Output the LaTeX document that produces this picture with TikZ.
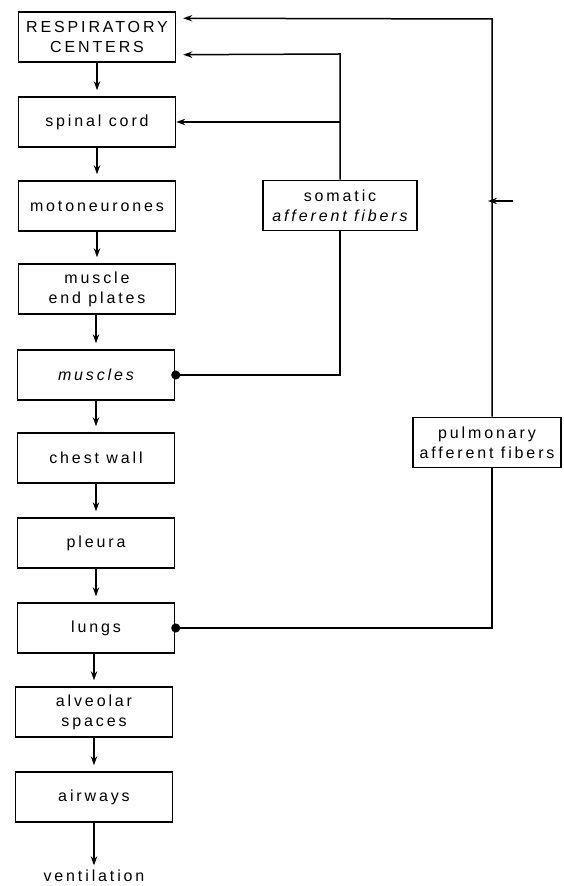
\documentclass[tikz,border=0pt]{standalone}
\usepackage{fontspec}
\setmainfont{Liberation Sans}[LetterSpace=18]
\usetikzlibrary{arrows.meta,calc}
\begin{document}
\begin{tikzpicture}[x=0.5pt,y=-0.5pt,
  font=\fontsize{8pt}{10pt}\selectfont,
  every path/.style={line width=0.75pt},
  box/.style={draw,line width=0.75pt,minimum width=78.5pt,minimum height=25pt,align=center,inner sep=1pt},
  arr/.style={-{Stealth[length=4.5pt,width=3.2pt]}},
  dot/.style={{Circle[length=4.5pt]}-},
  down/.style={arr,shorten >=3pt}]
\useasboundingbox (0,0) rectangle (563,886);
% left column
\node[box] (rc)  at (97,37)  {RESPIRATORY\\CENTERS};
\node[box] (sc)  at (97,122) {spinal cord};
\node[box] (mn)  at (97,206) {motoneurones};
\node[box] (mep) at (97,289) {muscle\\end plates};
\node[box] (mus) at (96,375) {\itshape muscles};
\node[box] (cw)  at (96,458) {chest wall};
\node[box] (pl)  at (96,543) {pleura};
\node[box] (lu)  at (96,628) {lungs};
\node[box] (alv) at (94,712) {alveolar\\spaces};
\node[box] (aw)  at (94,797) {airways};
\node[inner sep=1pt] (ve) at (94,876) {ventilation};
% right boxes
\node[box,minimum width=77pt] (som) at (340,205.5) {somatic\\\itshape afferent fibers};
\node[box,minimum width=74pt] (pul) at (487,442.5) {pulmonary\\afferent fibers};
% downward chain
\draw[down] (rc) -- (sc);
\draw[down] (sc) -- (mn);
\draw[down] (mn) -- (mep);
\draw[down] (mep.south -| mus.north) -- (mus);
\draw[down] (mus) -- (cw);
\draw[down] (cw) -- (pl);
\draw[down] (pl) -- (lu);
\draw[down] (lu.south -| alv.north) -- (alv);
\draw[down] (alv) -- (aw);
\draw[arr,shorten >=1pt] (aw) -- (ve);
% somatic loop
\coordinate (st) at ($(rc.south east)+(0,-8)$);
\coordinate (sx) at (340,54);
\draw[arr,shorten >=3.5pt] (som.north) -- (sx) -- (st);
\draw[arr] (som.north |- sc.east) -- (sc.east);
\draw[dot,shorten <=-2pt] (mus.east) -- (mus.east -| som.south) -- (som.south);
% pulmonary loop
\coordinate (pt) at ($(rc.north east)+(0,7)$);
\coordinate (px) at (492,19);
\draw[arr,shorten >=3.5pt] (pul.north -| px) -- (px) -- (pt);
\draw[dot,shorten <=-2pt] (lu.east) -- (lu.east -| px) -- (pul.south -| px);
% small mark on the pulmonary line
\coordinate (mk1) at (513,201);
\coordinate (mk2) at (488,201);
\draw[arr,line width=1pt] (mk1) -- (mk2);
\end{tikzpicture}
\end{document}
